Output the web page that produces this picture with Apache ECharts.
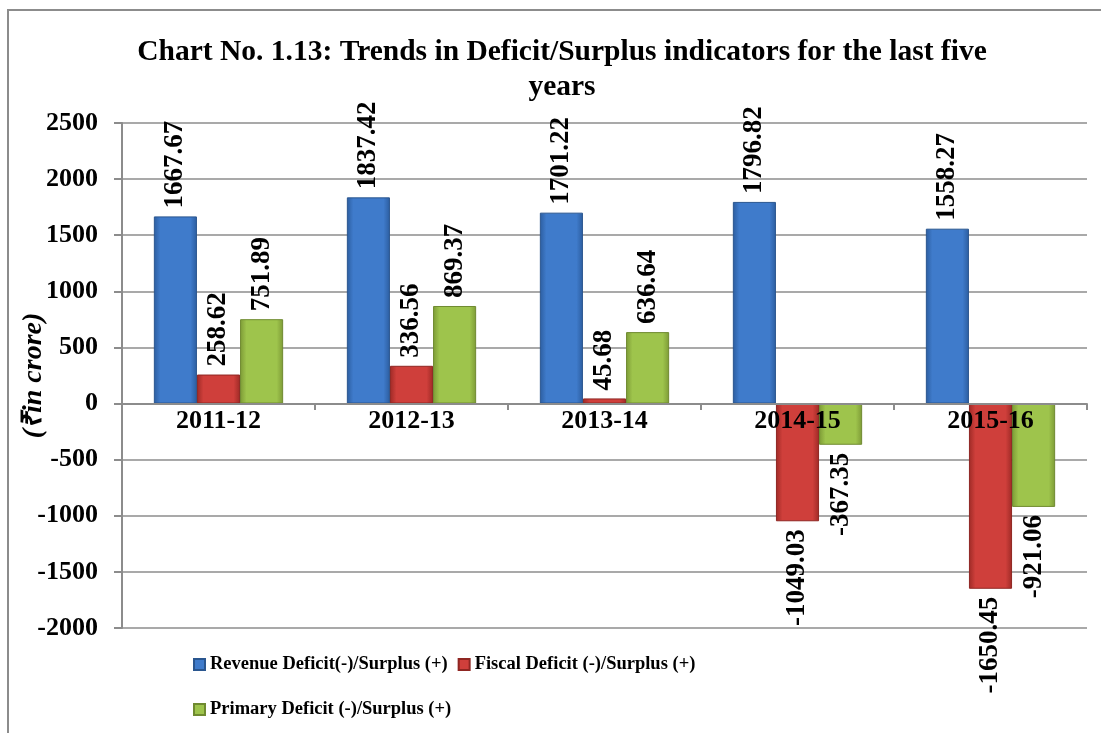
<!DOCTYPE html>
<html>
<head>
<meta charset="utf-8">
<script src="https://cdn.jsdelivr.net/npm/echarts@6/dist/echarts.min.js"></script>
<style>
  html, body { margin: 0; padding: 0; background: #fff; }
  #chart { width: 1101px; height: 733px; }
</style>
</head>
<body>
<div id="chart"></div>
<script>
const years = ['2011-12', '2012-13', '2013-14', '2014-15', '2015-16']
const revenue = [1667.67, 1837.42, 1701.22, 1796.82, 1558.27]
const fiscal = [258.62, 336.56, 45.68, -1049.03, -1650.45]
const primary = [751.89, 869.37, 636.64, -367.35, -921.06]
const seriesNames = [
  'Revenue Deficit(-)/Surplus (+)',
  'Fiscal Deficit (-)/Surplus (+)',
  'Primary Deficit (-)/Surplus (+)'
]

const font = 'Liberation Serif'

// horizontal gradient to fake the bevelled bars
function bevel(edge, mid) {
  return new echarts.graphic.LinearGradient(0, 0, 1, 0, [
    { offset: 0, color: edge },
    { offset: 0.15, color: mid },
    { offset: 0.85, color: mid },
    { offset: 1, color: edge }
  ])
}

function withLabels(values) {
  return values.map(v => {
    if (v >= 0) return v
    return {
      value: v,
      label: { position: 'bottom', align: 'right' }
    }
  })
}

function makeSeries(name, values, edge, mid, border) {
  return {
    name: name,
    type: 'bar',
    barGap: '0%',
    barCategoryGap: '33%',
    itemStyle: {
      color: bevel(edge, mid),
      borderColor: border,
      borderWidth: 1
    },
    label: {
      show: true,
      position: 'top',
      rotate: 90,
      align: 'left',
      verticalAlign: 'middle',
      distance: 8,
      color: '#000',
      fontFamily: font,
      fontWeight: 'bold',
      fontSize: 27,
      formatter: p => p.value.toFixed(2)
    },
    data: withLabels(values)
  }
}

const legendText = { fontFamily: font, fontWeight: 'bold', fontSize: 18.5, color: '#000' }

const chart = echarts.init(document.getElementById('chart'))
chart.setOption({
  backgroundColor: '#ffffff',
  animation: false,
  graphic: [{
    type: 'rect',
    shape: { x: 8, y: 10, width: 1200, height: 800 },
    style: { fill: 'none', stroke: '#8c8c8c', lineWidth: 2 },
    silent: true
  }],
  title: {
    text: 'Chart No. 1.13: Trends in Deficit/Surplus indicators for the last five\nyears',
    left: 557,
    top: 30,
    textAlign: 'center',
    textStyle: {
      fontFamily: font,
      fontWeight: 'bold',
      fontSize: 29.5,
      lineHeight: 35,
      color: '#000'
    }
  },
  legend: [{
    data: seriesNames.slice(0, 2),
    left: 188,
    top: 650,
    icon: 'rect',
    itemWidth: 11,
    itemHeight: 11,
    itemGap: 10,
    textStyle: legendText
  }, {
    data: seriesNames.slice(2),
    left: 188,
    top: 695,
    icon: 'rect',
    itemWidth: 11,
    itemHeight: 11,
    textStyle: legendText
  }],
  grid: {
    left: 122,
    right: 14,
    top: 123,
    bottom: 105,
    containLabel: false,
    outerBoundsMode: 'none'
  },
  xAxis: {
    type: 'category',
    data: years,
    z: 10,
    offset: -224,
    axisLine: { onZero: false, lineStyle: { color: '#8c8c8c', width: 2 } },
    axisTick: { show: true, length: 6, lineStyle: { color: '#8c8c8c', width: 2 } },
    axisLabel: {
      margin: 4,
      color: '#000',
      fontFamily: font,
      fontWeight: 'bold',
      fontSize: 26
    }
  },
  yAxis: {
    type: 'value',
    min: -2000,
    max: 2500,
    interval: 500,
    name: '(₹in crore)',
    nameLocation: 'middle',
    nameRotate: 90,
    nameGap: 74,
    nameMoveOverlap: false,
    nameTextStyle: {
      fontFamily: font,
      fontStyle: 'italic',
      fontWeight: 'bold',
      fontSize: 28,
      color: '#000'
    },
    axisLine: { show: true, lineStyle: { color: '#8c8c8c', width: 2 } },
    axisTick: { show: true, length: 8, lineStyle: { color: '#8c8c8c', width: 2 } },
    axisLabel: {
      margin: 24,
      color: '#000',
      fontFamily: font,
      fontWeight: 'bold',
      fontSize: 26,
      formatter: v => String(v)
    },
    splitLine: { lineStyle: { color: '#8c8c8c', width: 1.5 } }
  },
  series: [
    makeSeries(seriesNames[0], revenue, '#2c5d9f', '#3f7bcb', '#2a568f'),
    makeSeries(seriesNames[1], fiscal, '#9e2a26', '#cf3f3b', '#8f2622'),
    makeSeries(seriesNames[2], primary, '#7d9a36', '#9ec44c', '#6f8a30')
  ]
})
</script>
</body>
</html>
